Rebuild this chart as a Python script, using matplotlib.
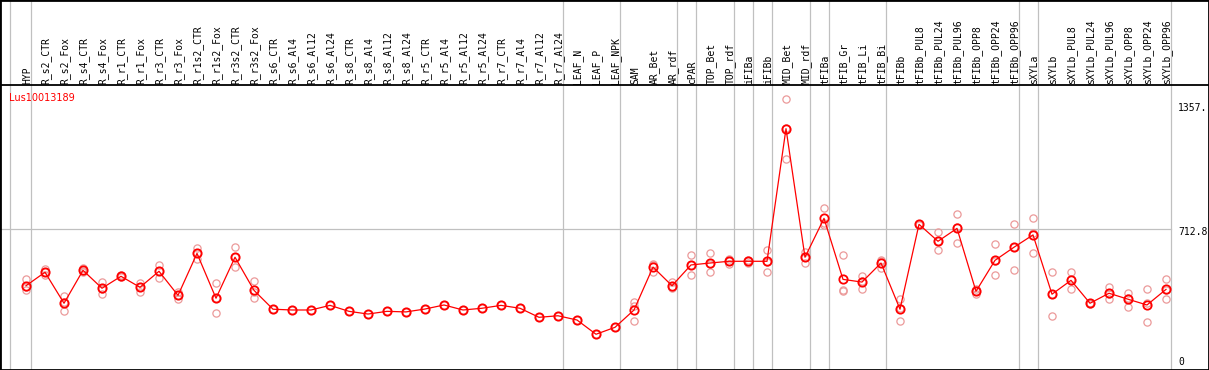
import matplotlib
matplotlib.use('Agg')
import matplotlib.pyplot as plt

gene = 'Lus10013189'

samples = ['HYP', 'R_s2_CTR', 'R_s2_Fox', 'R_s4_CTR', 'R_s4_Fox', 'R_r1_CTR', 'R_r1_Fox',
           'R_r3_CTR', 'R_r3_Fox', 'R_r1s2_CTR', 'R_r1s2_Fox', 'R_r3s2_CTR', 'R_r3s2_Fox',
           'R_s6_CTR', 'R_s6_Al4', 'R_s6_Al12', 'R_s6_Al24', 'R_s8_CTR', 'R_s8_Al4',
           'R_s8_Al12', 'R_s8_Al24', 'R_r5_CTR', 'R_r5_Al4', 'R_r5_Al12', 'R_r5_Al24',
           'R_r7_CTR', 'R_r7_Al4', 'R_r7_Al12', 'R_r7_Al24', 'LEAF_N', 'LEAF_P', 'LEAF_NPK',
           'SAM', 'AR_Bet', 'AR_rdf', 'cPAR', 'TOP_Bet', 'TOP_rdf', 'iFIBa', 'iFIBb',
           'MID_Bet', 'MID_rdf', 'tFIBa', 'tFIB_Gr', 'tFIB_Li', 'tFIB_Bi', 'tFIBb',
           'tFIBb_PUL8', 'tFIBb_PUL24', 'tFIBb_PUL96', 'tFIBb_OPP8', 'tFIBb_OPP24',
           'tFIBb_OPP96', 'sXYLa', 'sXYLb', 'sXYLb_PUL8', 'sXYLb_PUL24', 'sXYLb_PUL96',
           'sXYLb_OPP8', 'sXYLb_OPP24', 'sXYLb_OPP96']

means = [418, 488, 327, 498, 405, 467, 410, 493, 368, 586, 353, 566, 394,
         296, 292, 292, 316, 285, 271, 285, 282, 297, 318, 292, 301,
         316, 301, 254, 262, 240, 166, 202,
         292, 515, 418, 526, 536, 545, 545, 545,
         1234, 566, 768, 451, 437, 536, 296,
         737, 649, 716, 389, 550, 618,
         682, 374, 446, 327, 379, 348, 318, 399]

reps = [[451, 410, 396], [505, 488, 475], [365, 331, 285], [510, 496, 488],
        [437, 401, 377], [472, 467, 462], [432, 411, 387], [526, 493, 460],
        [384, 369, 351], [614, 589, 555], [431, 353, 275], [619, 565, 514],
        [441, 388, 353],
        [296], [292], [292], [316], [285], [271], [285], [282], [297], [318],
        [292], [301], [316], [301], [254], [262], [240], [166], [202],
        [335, 314, 235], [529, 527, 489], [436, 413, 405], [576, 527, 475],
        [586, 533, 489], [555, 548, 532], [552, 545, 538], [604, 540, 491],
        [1390, 1236, 1076], [595, 565, 538], [820, 745, 734], [576, 396, 389],
        [470, 442, 399], [552, 544, 512], [351, 304, 233],
        [740, 737, 734], [696, 649, 602], [789, 721, 638], [399, 391, 377],
        [633, 545, 472], [737, 619, 498],
        [770, 690, 586], [488, 375, 259], [488, 451, 399], [330, 327, 324],
        [410, 376, 351], [382, 353, 309], [399, 327, 228], [451, 398, 348]]

# last sample index of each group (vertical separators)
group_ends = [-1.07, 0, 28, 31, 34, 35, 37, 38, 39, 41, 42, 45, 52, 53, 60]

y_ticks = [1357, 712.8, 0]
y_tick_labels = ['1357.', '712.8', '0']

W, H = 1209, 370
fig = plt.figure(figsize=(W / 100, H / 100), dpi=100)
ax = fig.add_axes([0, 0, 1, 1])

# pixel layout: sample i at x = 26 + 19*i, value v at y = 366.2 - 0.1925*v
ax.set_xlim(-26 / 19, (W - 26) / 19)
ax.set_ylim((366.2 - H) / 0.1925, 366.2 / 0.1925)
ax.set_xticks([])
ax.set_yticks([])
for s in ax.spines.values():
    s.set_color('black')
    s.set_linewidth(2)

x_right = (1170.7 - 26) / 19
header_y = (366.2 - 85) / 0.1925

for g in group_ends:
    ax.axvline(g + 0.24, color='#c0c0c0', lw=0.9, zorder=1)
ax.plot([ax.get_xlim()[0], x_right], [712.8, 712.8], color='#c0c0c0', lw=0.9, zorder=1)
ax.axhline(header_y, color='black', lw=1.3, zorder=2)

xs = list(range(len(samples)))
for i, r in enumerate(reps):
    ax.plot([i] * len(r), r, 'o', ms=5.2, mfc='none', mec='#eb9a9a', mew=0.9, zorder=3)
ax.plot(xs, means, '-', color='red', lw=0.9, zorder=4)
ax.plot(xs, means, 'o', ms=6, mfc='none', mec='red', mew=1.3, zorder=5)

for i, name in enumerate(samples):
    ax.text(i + 0.05, (366.2 - 84) / 0.1925, name, rotation=90, ha='center', va='bottom',
            family='DejaVu Sans Mono', fontsize=7, color='black')

ax.text(-26 / 19 + 9.5 / 19, (366.2 - 98) / 0.1925, gene, color='red', fontsize=7,
        family='DejaVu Sans', ha='left', va='center')

label_x = (1178 - 26) / 19
offsets = [-2.7, -2.7, 4.5]
for v, lab, off in zip(y_ticks, y_tick_labels, offsets):
    ax.annotate(lab, (label_x, v), xytext=(0, off), textcoords='offset pixels',
                ha='left', va='center', family='DejaVu Sans Mono', fontsize=7)

fig.savefig('out.png', dpi=100)
